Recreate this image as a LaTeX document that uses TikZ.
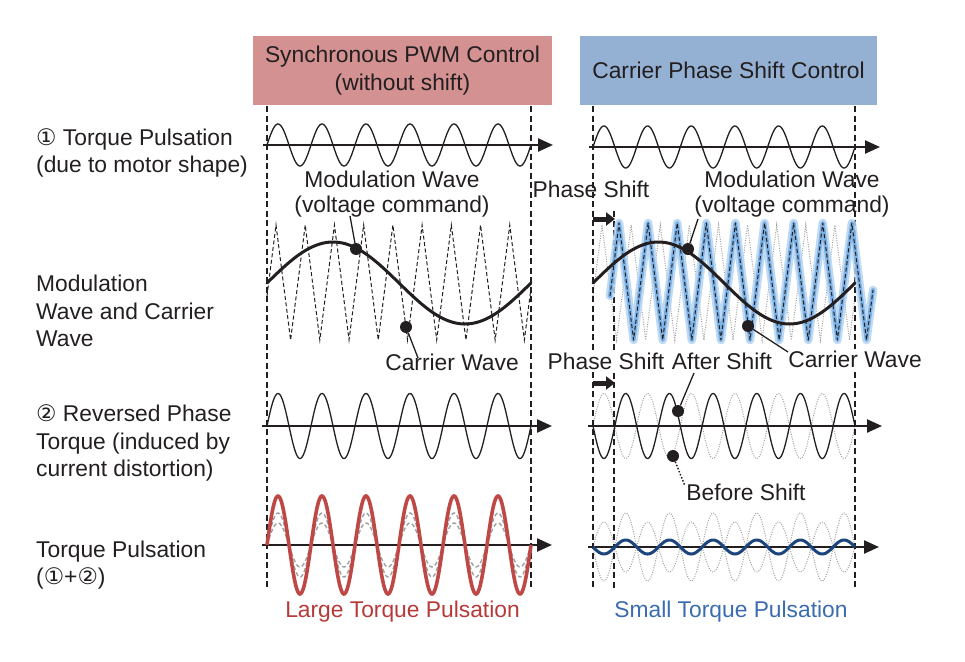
\documentclass[tikz,border=0pt]{standalone}
\usepackage{fontspec}
\setmainfont{Liberation Sans}
\newfontfamily\symfont{DejaVu Sans}
\usetikzlibrary{arrows.meta}
\definecolor{ink}{RGB}{35,31,32}
\definecolor{redbox}{RGB}{212,145,145}
\definecolor{bluebox}{RGB}{148,176,211}
\definecolor{bigred}{RGB}{190,72,70}
\definecolor{navy}{RGB}{28,68,125}
\definecolor{txtred}{RGB}{182,58,58}
\definecolor{txtblue}{RGB}{58,108,175}
\definecolor{glowA}{RGB}{180,212,242}
\definecolor{glowB}{RGB}{110,168,226}
\definecolor{ghostc}{RGB}{160,160,160}
\begin{document}
\begin{tikzpicture}[x=1pt,y=-1pt,
  font=\fontsize{22.8}{27.5}\selectfont,
  guide/.style={ink, line width=1.2pt, dash pattern=on 6pt off 3.5pt},
  axis/.style={ink, line width=2.4pt, -{Triangle[length=15pt,width=13pt]}},
  wave/.style={ink, line width=1.3pt},
  modwave/.style={ink, line width=3pt, line cap=round},
  carrier/.style={ink, line width=1pt, dash pattern=on 4pt off 2.5pt},
  ghost/.style={ghostc, line width=1pt, dash pattern=on 1pt off 1.4pt},
  ghostdash/.style={ghostc, line width=1.4pt, dash pattern=on 4pt off 2.5pt},
  dotmark/.style={circle, fill=ink, inner sep=0pt, minimum size=12pt},
  leader/.style={ink, line width=1.3pt},
  dotleader/.style={ink, line width=1.5pt, dash pattern=on 1.5pt off 1.8pt},
  lbl/.style={inner sep=0pt, text=ink},
  wlbl/.style={inner sep=1.5pt, text=ink, fill=white},
  shiftarrow/.style={ink, line width=5pt, -{Triangle[length=9pt,width=13pt]}},
  titlebox/.style={inner sep=0pt, align=center, text=ink}]
\useasboundingbox (0,0) rectangle (965,661);

% ---------------- title boxes
\node[titlebox, fill=redbox, minimum width=299pt, minimum height=69pt] (tA) at (402.5,70.5) {Synchronous PWM Control\\(without shift)};
\node[titlebox, fill=bluebox, minimum width=297pt, minimum height=69pt] (tB) at (728.5,70.5) {Carrier Phase Shift Control};

% ---------------- row labels
\node[lbl, anchor=west, align=left] (rowA) at (36,153) {{\symfont ①} Torque Pulsation\\(due to motor shape)};
\node[lbl, anchor=west, align=left] (rowB) at (36,311) {Modulation\\Wave and Carrier\\Wave};
\node[lbl, anchor=west, align=left] (rowC) at (36,443) {{\symfont ②} Reversed Phase\\Torque (induced by\\current distortion)};
\node[lbl, anchor=west, align=left] (rowD) at (36,565) {Torque Pulsation\\({\symfont ①}+{\symfont ②})};

% ---------------- ghost curves (behind)
\draw[ghost] (593,296) \foreach \k in {0,...,8}{ -- ({602+29.11*\k},225) -- ({616.6+29.11*\k},340) } -- (855,297);
\draw[ghost] plot[domain=593:855, samples=300] (\x, {426-32.5*sin(8.24427*(\x-593))});
\draw[ghost] plot[domain=593:855, samples=300] (\x, {547+34*sin(8.24427*(\x-593))});
\draw[ghost] plot[domain=593:855, samples=300] (\x, {547-25*sin(8.24427*(\x-593))});
\draw[ghostdash] plot[domain=267:531, samples=300] (\x, {545-32*sin(8.18182*(\x-267))});
\draw[ghostdash] plot[domain=267:531, samples=300] (\x, {545-22*sin(8.18182*(\x-267))});

% ---------------- guide lines
\coordinate (gLat) at (267,106); \coordinate (gLab) at (267,590);
\coordinate (gLbt) at (531,106); \coordinate (gLbb) at (531,590);
\coordinate (gRat) at (593,106); \coordinate (gRab) at (593,590);
\coordinate (gRst) at (614,211); \coordinate (gRsb) at (614,590);
\coordinate (gRbt) at (855,106); \coordinate (gRbb) at (855,590);
\draw[guide] (gLat) -- (gLab);
\draw[guide] (gLbt) -- (gLbb);
\draw[guide] (gRat) -- (gRab);
\draw[guide] (gRst) -- (gRsb);
\draw[guide] (gRbt) -- (gRbb);

% ---------------- axes
\coordinate (a1Ls) at (263,145); \coordinate (a1Le) at (553,145);
\coordinate (a1Rs) at (589,147); \coordinate (a1Re) at (880,147);
\coordinate (a2Ls) at (262,426); \coordinate (a2Le) at (552,426);
\coordinate (a2Rs) at (588,426); \coordinate (a2Re) at (882,426);
\coordinate (a4Ls) at (262,545); \coordinate (a4Le) at (552,545);
\coordinate (a4Rs) at (588,547); \coordinate (a4Re) at (879,547);
\draw[axis] (a1Ls) -- (a1Le);
\draw[axis] (a1Rs) -- (a1Re);
\draw[axis] (a2Ls) -- (a2Le);
\draw[axis] (a2Rs) -- (a2Re);
\draw[axis] (a4Ls) -- (a4Le);
\draw[axis] (a4Rs) -- (a4Re);

% ---------------- row 1 waves
\draw[wave] plot[domain=267:531, samples=300] (\x, {145-21*sin(8.18182*(\x-267))});
\draw[wave] plot[domain=593:855, samples=300] (\x, {147-21*sin(8.24427*(\x-593))});

% ---------------- row 3 : modulation and carrier, left
\draw[carrier] (267,296) \foreach \k in {0,...,8}{ -- ({276+29.22*\k},225) -- ({290.6+29.22*\k},340) } -- (531,288);
\draw[modwave] plot[domain=267:531, samples=200] (\x, {283-41*sin(1.363636*(\x-267))});

% ---------------- row 3 : right (shifted carrier with glow)
\draw[carrier, line join=round,
  preaction={draw, solid, glowA, line width=8.5pt, line join=round, line cap=round, opacity=0.85},
  preaction={draw, solid, glowB, line width=4pt, line join=round, line cap=round, opacity=0.8}]
  (610,296) \foreach \k in {0,...,8}{ -- ({619+29.11*\k},223) -- ({633.6+29.11*\k},340) } -- (873,290);
\draw[modwave] plot[domain=593:855, samples=200] (\x, {283-41*sin(1.374046*(\x-593))});

% ---------------- row 2 waves
\draw[wave] plot[domain=267:531, samples=300] (\x, {426-32.5*sin(8.18182*(\x-267))});
\draw[wave] plot[domain=593:855, samples=300] (\x, {426+32.5*sin(8.24427*(\x-593))});

% ---------------- row 4 waves
\draw[bigred, line width=3.6pt] plot[domain=267:531, samples=300] (\x, {545-49*sin(8.18182*(\x-267))});
\draw[navy, line width=3pt] plot[domain=593:855, samples=300] (\x, {547+7*sin(8.24427*(\x-593))});

% ---------------- phase shift arrows
\coordinate (ps1s) at (593,219); \coordinate (ps1e) at (615,219);
\coordinate (ps2s) at (593,383); \coordinate (ps2e) at (615,383);
\draw[shiftarrow] (ps1s) -- (ps1e);
\draw[shiftarrow] (ps2s) -- (ps2e);

% ---------------- annotation labels
\node[lbl, align=center, font=\fontsize{22.8}{24.5}\selectfont] (modL) at (392,194) {Modulation Wave\\(voltage command)};
\node[lbl, align=center, font=\fontsize{22.8}{24.5}\selectfont] (modR) at (792,194) {Modulation Wave\\(voltage command)};
\node[lbl] (carL) at (452,362) {Carrier Wave};
\node[wlbl] (carR) at (855,359) {Carrier Wave};
\node[lbl] (psU) at (591,189) {Phase Shift};
\node[wlbl] (psD) at (606,361) {Phase Shift};
\node[wlbl] (aftS) at (722,361) {After Shift};
\node[lbl] (befS) at (746,492) {Before Shift};
\node[lbl, text=txtred] (large) at (402.5,612) {Large Torque Pulsation};
\node[lbl, text=txtblue] (small) at (731,612) {Small Torque Pulsation};

% ---------------- leader dots
\node[dotmark] (dmL) at (356,249) {};
\node[dotmark] (dcL) at (406,327) {};
\node[dotmark] (dmR) at (688,249) {};
\node[dotmark] (dcR) at (748,326) {};
\node[dotmark] (dA) at (678,411) {};
\node[dotmark] (dB) at (673,456) {};
\coordinate (emL) at (350,216);
\coordinate (ecL) at (418,358);
\coordinate (emR) at (698,219);
\coordinate (ecR) at (788,352);
\coordinate (eA) at (694,373);
\coordinate (eB) at (685,486);
\draw[leader] (dmL) -- (emL);
\draw[leader] (dcL) -- (ecL);
\draw[leader] (dmR) -- (emR);
\draw[leader] (dcR) -- (ecR);
\draw[leader] (dA) -- (eA);
\draw[dotleader] (dB) -- (eB);
\end{tikzpicture}
\end{document}
